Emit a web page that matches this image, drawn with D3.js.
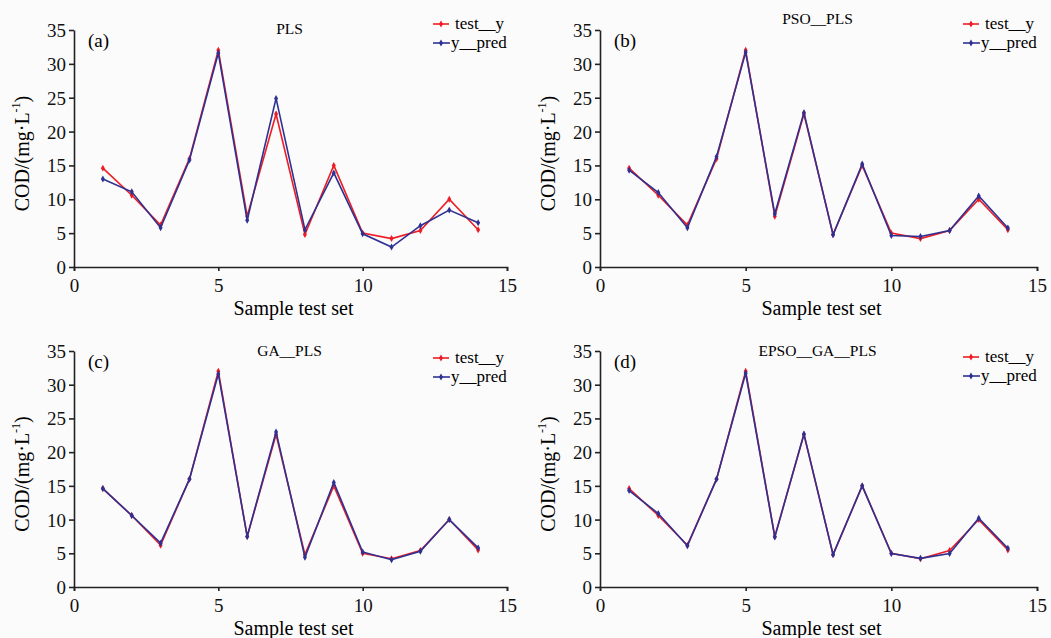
<!DOCTYPE html>
<html>
<head>
<meta charset="utf-8">
<script src="https://cdn.jsdelivr.net/npm/d3@7"></script>
<style>
  body { margin: 0; background: #fbfbfb; }
  svg { display: block; }
  .axis path, .axis line { stroke: #222; stroke-width: 1.6; }
</style>
</head>
<body>
<svg id="chart" width="1051" height="638"></svg>
<script>
// sample index on the x axis
let samples = [1, 2, 3, 4, 5, 6, 7, 8, 9, 10, 11, 12, 13, 14];
// measured COD of the test set (same in all four panels)
let testY = [14.6, 10.6, 6.2, 16.0, 32.0, 7.5, 22.6, 4.8, 15.0, 5.0, 4.2, 5.4, 10.0, 5.5];
// predicted values of each model
let predPLS = [13.0, 11.1, 5.8, 15.8, 31.6, 6.9, 24.9, 5.5, 13.9, 4.9, 2.95, 6.1, 8.4, 6.55];
let predPSO = [14.3, 11.0, 5.8, 16.3, 31.7, 7.85, 22.8, 4.75, 15.2, 4.65, 4.5, 5.4, 10.5, 5.75];
let predGA = [14.6, 10.6, 6.5, 16.0, 31.6, 7.5, 23.0, 4.4, 15.5, 5.2, 4.05, 5.3, 10.0, 5.8];
let predEPSO = [14.3, 10.9, 6.1, 16.0, 31.7, 7.4, 22.7, 4.8, 15.0, 4.95, 4.25, 4.95, 10.2, 5.75];

let panelTitles = ['PLS', 'PSO__PLS', 'GA__PLS', 'EPSO__GA__PLS'];
let panelLetters = ['(a)', '(b)', '(c)', '(d)'];
let panelPreds = [predPLS, predPSO, predGA, predEPSO];
let seriesNames = ['test__y', 'y__pred'];

let xTicks = [0, 5, 10, 15];
let yTicks = [0, 5, 10, 15, 20, 25, 30, 35];

let red = '#ee1d25';
let blue = '#2e3192';
let serif = '"Liberation Serif", Tinos, "Times New Roman", Times, "DejaVu Serif", serif';

// layout of the 4 panels (plot area boxes)
let boxes = [
  { left: 74, right: 507, top: 30, bottom: 267, titleY: 34, legendY: 24 },
  { left: 600, right: 1037, top: 30, bottom: 267, titleY: 24, legendY: 24 },
  { left: 74, right: 507, top: 351, bottom: 587, titleY: 356, legendY: 358 },
  { left: 600, right: 1037, top: 351, bottom: 587, titleY: 356, legendY: 357 }
];

let svg = d3.select('#chart').attr('font-family', serif);

boxes.forEach(function (b, i) {
  let x = d3.scaleLinear().domain([0, 15]).range([b.left, b.right]);
  let y = d3.scaleLinear().domain([0, 35]).range([b.bottom, b.top]);
  let g = svg.append('g');

  // axes
  g.append('g').attr('class', 'axis x')
    .attr('transform', 'translate(0,' + b.bottom + ')')
    .call(d3.axisBottom(x).tickValues(xTicks).tickSize(4).tickSizeOuter(4).tickPadding(7))
    .attr('font-family', serif).attr('font-size', 19);

  g.append('g').attr('class', 'axis y')
    .attr('transform', 'translate(' + b.left + ',0)')
    .call(d3.axisLeft(y).tickValues(yTicks).tickSize(5).tickSizeOuter(0).tickPadding(3))
    .attr('font-family', serif).attr('font-size', 19);

  g.selectAll('.axis text').attr('fill', '#111');
  g.selectAll('.axis.x .tick text').attr('dy', '0.72em');
  g.selectAll('.axis.y .tick text').attr('dy', '0.34em');

  // axis titles
  g.append('text')
    .attr('x', (b.left + b.right) / 2 + 3)
    .attr('y', b.bottom + 48)
    .attr('text-anchor', 'middle')
    .attr('font-size', 20)
    .text('Sample test set');

  let yt = g.append('text')
    .attr('transform', 'translate(' + (b.left - 45) + ',' + ((b.top + b.bottom) / 2 + 5) + ') rotate(-90)')
    .attr('text-anchor', 'middle')
    .attr('font-size', 20);
  yt.append('tspan').text('COD/(mg\u00b7L');
  yt.append('tspan').attr('font-size', 12).attr('dy', -9).text('-1');
  yt.append('tspan').attr('dy', 9).text(')');

  // panel title and letter
  g.append('text')
    .attr('x', x(7.5) - 1)
    .attr('y', b.titleY)
    .attr('text-anchor', 'middle')
    .attr('font-size', 15.5)
    .text(panelTitles[i]);

  g.append('text')
    .attr('x', b.left + 14)
    .attr('y', b.top + 17)
    .attr('font-size', 19)
    .text(panelLetters[i]);

  // lines
  let series = [
    { name: seriesNames[0], values: testY, color: red },
    { name: seriesNames[1], values: panelPreds[i], color: blue }
  ];

  let line = d3.line()
    .x((d, j) => x(samples[j]))
    .y(d => y(d));

  let marker = d3.symbol().type(d3.symbolDiamond).size(14);

  series.forEach(function (s) {
    g.append('path')
      .datum(s.values)
      .attr('fill', 'none')
      .attr('stroke', s.color)
      .attr('stroke-width', 1.6)
      .attr('d', line);

    g.selectAll(null)
      .data(s.values)
      .enter()
      .append('path')
      .attr('transform', (d, j) => 'translate(' + x(samples[j]) + ',' + y(d) + ')')
      .attr('d', marker)
      .attr('fill', s.color);
  });

  // legend
  let lx = b.right - 74;
  series.forEach(function (s, k) {
    let ly = b.legendY + k * 19;
    g.append('line')
      .attr('x1', lx).attr('x2', lx + (k === 0 ? 16 : 17))
      .attr('y1', ly).attr('y2', ly)
      .attr('stroke', s.color).attr('stroke-width', 1.6);
    g.append('path')
      .attr('transform', 'translate(' + (lx + 8) + ',' + ly + ')')
      .attr('d', marker)
      .attr('fill', s.color);
    g.append('text')
      .attr('x', lx + (k === 0 ? 22 : 18))
      .attr('y', ly + 5)
      .attr('font-size', 17)
      .text(s.name);
  });
});
</script>
</body>
</html>
